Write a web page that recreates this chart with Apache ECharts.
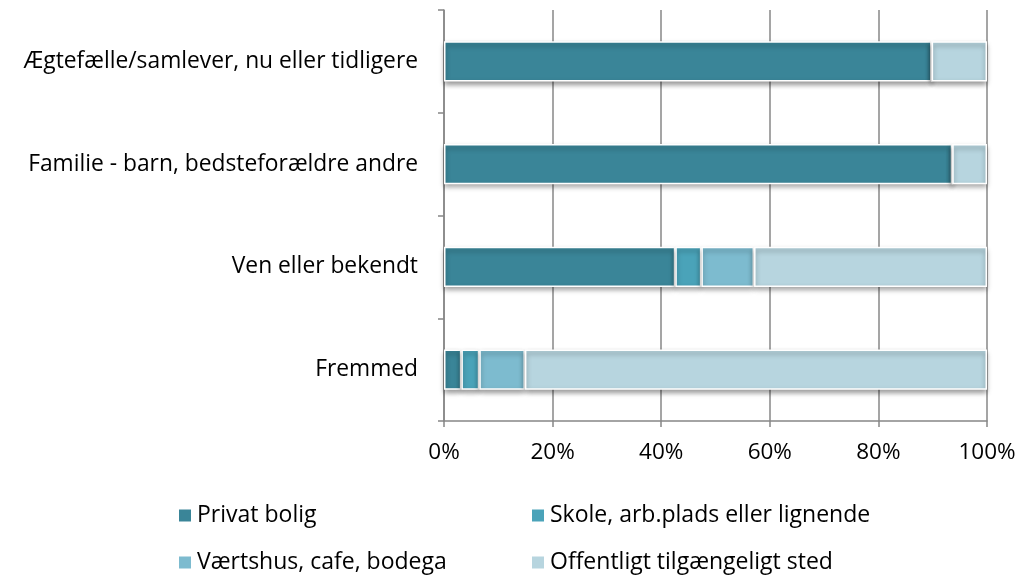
<!DOCTYPE html>
<html><head><meta charset="utf-8">
<script src="https://cdn.jsdelivr.net/npm/echarts@6/dist/echarts.min.js"></script>
<style>html,body{margin:0;padding:0;background:#fff}#c{width:1019px;height:576px}</style>
</head><body><div id="c"></div>
<script>
const categories = ['Fremmed', 'Ven eller bekendt', 'Familie - barn, bedsteforældre andre', 'Ægtefælle/samlever, nu eller tidligere'];
const seriesNames = ['Privat bolig', 'Skole, arb.plads eller lignende', 'Værtshus, cafe, bodega', 'Offentligt tilgængeligt sted'];
const privatBolig = [3.2, 42.6, 93.6, 89.8];
const skole = [3.3, 4.8, 0, 0];
const vaertshus = [8.4, 9.7, 0, 0];
const offentligt = [85.1, 42.9, 6.4, 10.2];
const xTicks = [0, 20, 40, 60, 80, 100];
const colors = ['#3a8598', '#4aa3b9', '#7dbbcf', '#b7d5df'];

const font = "'Open Sans', 'Noto Sans', sans-serif";
const values = [privatBolig, skole, vaertshus, offentligt];
const chart = echarts.init(document.getElementById('c'), null, {renderer: 'canvas'});
const legendPos = [[172, 499], [525, 499], [172, 546], [525, 546]];
chart.setOption({
  animation: false,
  color: colors,
  grid: {left: 444, right: 32, top: 10, bottom: 155, containLabel: false},
  xAxis: {
    type: 'value', min: xTicks[0], max: xTicks[xTicks.length - 1], interval: xTicks[1] - xTicks[0],
    axisLine: {show: true, lineStyle: {color: '#878787', width: 1.5}},
    axisTick: {show: true, length: 6, lineStyle: {color: '#878787', width: 1.5}},
    splitLine: {show: true, lineStyle: {color: '#878787', width: 1.5}},
    axisLabel: {formatter: v => v + '%', color: '#000', fontFamily: font, fontSize: 22.5, margin: 20}
  },
  yAxis: {
    type: 'category', data: categories,
    axisLine: {show: true, lineStyle: {color: '#878787', width: 1.5}},
    axisTick: {show: true, length: 6, lineStyle: {color: '#878787', width: 1.5}},
    axisLabel: {color: '#000', fontFamily: font, fontSize: 22.8, margin: 26}
  },
  legend: legendPos.map((p, i) => ({
    data: [seriesNames[i]], left: p[0], top: p[1], icon: 'rect', itemWidth: 14, itemHeight: 14, itemGap: 4,
    textStyle: {color: '#000', fontFamily: font, fontSize: 23}
  })),
  series: seriesNames.map((n, i) => ({
    name: n, type: 'bar', stack: 'total', data: values[i], barCategoryGap: '61%',
    itemStyle: {color: colors[i], borderColor: '#fff', borderWidth: 1.5,
      shadowColor: 'rgba(0,0,0,0.4)', shadowBlur: 5, shadowOffsetY: 3}
  }))
});
</script></body></html>
